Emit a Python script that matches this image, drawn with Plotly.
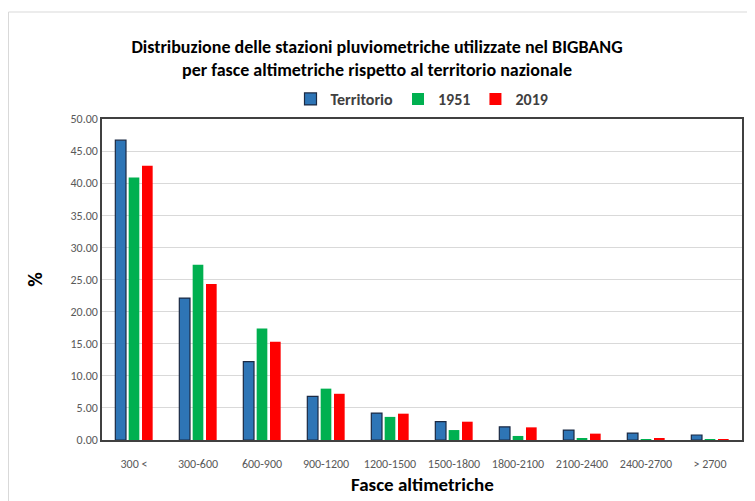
import plotly.graph_objects as go

categories = ["300 <", "300-600", "600-900", "900-1200", "1200-1500", "1500-1800",
              "1800-2100", "2100-2400", "2400-2700", "> 2700"]
territorio = [46.7, 22.1, 12.2, 6.8, 4.2, 2.85, 2.05, 1.55, 1.08, 0.78]
y1951 = [40.9, 27.3, 17.35, 8.0, 3.6, 1.55, 0.63, 0.26, 0.05, 0.02]
y2019 = [42.7, 24.3, 15.3, 7.2, 4.1, 2.85, 1.97, 0.99, 0.3, 0.08]
yticks = [0, 5, 10, 15, 20, 25, 30, 35, 40, 45, 50]

FONT = "Carlito, Liberation Sans Narrow, Lato, sans-serif"

fig = go.Figure()
fig.add_trace(go.Bar(name="Territorio", x=categories, y=territorio,
                     marker=dict(color="#2E75B6", line=dict(color="#1B2A44", width=1.2))))
fig.add_trace(go.Bar(name="1951", x=categories, y=y1951,
                     marker=dict(color="#00B050", line=dict(width=0))))
fig.add_trace(go.Bar(name="2019", x=categories, y=y2019,
                     marker=dict(color="#FF0000", line=dict(width=0))))

# page has an 8px body margin, so the figure is offset by 8px
W, H = 739, 493
L, R, T, B = 94, 5, 111, 61
pw, ph = W - L - R, H - T - B

fig.update_layout(
    width=W, height=H,
    margin=dict(l=L, r=R, t=T, b=B),
    paper_bgcolor="white", plot_bgcolor="white",
    font=dict(family=FONT, color="#595959", size=12),
    barmode="group", bargap=0.375, bargroupgap=0.2,
    title=dict(text="Distribuzione delle stazioni pluviometriche utilizzate nel BIGBANG<br>per fasce altimetriche rispetto al territorio nazionale",
               x=(377 - 8) / W, xanchor="center", y=1 - 45 / H, yanchor="top",
               font=dict(family=FONT, size=18, color="black", weight="bold")),
    legend=dict(orientation="h", x=0.5, xanchor="center", y=1 + 20 / ph, yanchor="middle",
                font=dict(family=FONT, size=16, color="#404040", weight="bold"),
                traceorder="normal", itemwidth=30),
    xaxis=dict(showline=True, linecolor="#404040", linewidth=1.5, mirror=True,
               ticks="", tickfont=dict(size=12, color="#595959"), ticklabelstandoff=12,
               automargin=False),
    yaxis=dict(range=[0, 50], tickvals=yticks, tickformat=".2f",
               showgrid=True, gridcolor="#D9D9D9", gridwidth=1,
               showline=True, linecolor="#404040", linewidth=1.5, mirror=True,
               ticks="", tickfont=dict(size=12, color="#595959"), zeroline=False,
               automargin=False,
               title=dict(text="%", standoff=22,
                          font=dict(family=FONT, size=20, color="black", weight="bold"))),
    annotations=[dict(text="Fasce altimetriche", xref="paper", yref="paper",
                      x=0.5, xanchor="center", y=-(485 - 440) / ph, yanchor="middle",
                      showarrow=False,
                      font=dict(family=FONT, size=19, color="black", weight="bold"))],
    shapes=[dict(type="rect", xref="paper", yref="paper",
                 x0=(0.5 - L) / pw, x1=(W + 20 - L) / pw,
                 y0=-(B + 40) / ph, y1=(H - B - 4) / ph,
                 line=dict(color="#D9D9D9", width=1), fillcolor="rgba(0,0,0,0)", layer="below")],
)

fig.write_html("out.html")
